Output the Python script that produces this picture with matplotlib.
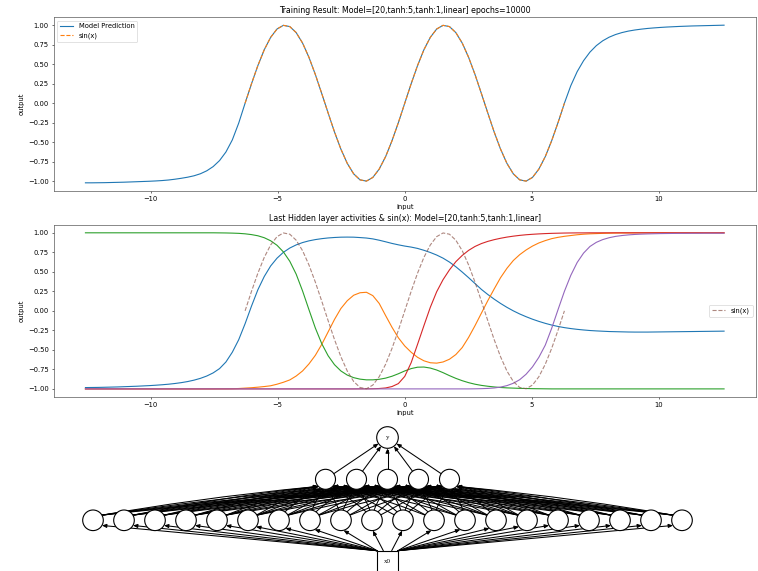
import numpy as np
import matplotlib
matplotlib.use('Agg')
from matplotlib import pyplot as plt
from matplotlib.patches import Circle, Rectangle, FancyArrowPatch
from matplotlib.path import Path

# input grid, -4pi .. 4pi
x_in = np.linspace(-4 * np.pi, 4 * np.pi, 101)
sin_slice = slice(25, 76)  # -2pi .. 2pi

sin_y = [0.000, 0.249, 0.482, 0.685, 0.844, 0.951, 0.998, 0.982, 0.905, 0.771,
         0.588, 0.368, 0.125, -0.125, -0.368, -0.588, -0.771, -0.905, -0.982, -0.998,
         -0.951, -0.844, -0.685, -0.482, -0.249, 0.000, 0.249, 0.482, 0.685, 0.844,
         0.951, 0.998, 0.982, 0.905, 0.771, 0.588, 0.368, 0.125, -0.125, -0.368,
         -0.588, -0.771, -0.905, -0.982, -0.998, -0.951, -0.844, -0.685, -0.482, -0.249,
         0.000]

# model prediction outside -2pi .. 2pi (inside it sits on sin(x))
pred_left = [-1.020, -1.020, -1.019, -1.018, -1.016, -1.014, -1.012, -1.009, -1.006, -1.003,
             -1.000, -0.996, -0.991, -0.984, -0.974, -0.962, -0.948, -0.930, -0.904, -0.866,
             -0.812, -0.735, -0.625, -0.470, -0.255]
pred_right = [0.225, 0.405, 0.545, 0.655, 0.738, 0.800, 0.846, 0.880, 0.905, 0.924,
              0.938, 0.949, 0.958, 0.965, 0.971, 0.976, 0.980, 0.984, 0.987, 0.990,
              0.992, 0.994, 0.996, 0.998, 1.000]
prediction = pred_left + sin_y + pred_right

# last hidden layer (tanh:5) activities
h0 = [-0.983, -0.982, -0.981, -0.979, -0.977, -0.975, -0.972, -0.969, -0.966, -0.962,
      -0.958, -0.953, -0.947, -0.940, -0.931, -0.920, -0.906, -0.888, -0.865, -0.835,
      -0.795, -0.740, -0.655, -0.530, -0.370, -0.165, 0.060, 0.270, 0.440, 0.575,
      0.675, 0.750, 0.805, 0.845, 0.875, 0.897, 0.913, 0.925, 0.934, 0.940,
      0.944, 0.945, 0.944, 0.939, 0.933, 0.922, 0.905, 0.885, 0.864, 0.846,
      0.830, 0.817, 0.800, 0.776, 0.748, 0.715, 0.675, 0.625, 0.565, 0.497,
      0.425, 0.350, 0.275, 0.210, 0.150, 0.095, 0.045, 0.000, -0.040, -0.075,
      -0.107, -0.135, -0.160, -0.182, -0.200, -0.215, -0.227, -0.237, -0.245, -0.252,
      -0.257, -0.261, -0.265, -0.267, -0.269, -0.271, -0.272, -0.272, -0.272, -0.271,
      -0.270, -0.269, -0.268, -0.267, -0.266, -0.265, -0.264, -0.263, -0.262, -0.261,
      -0.260]
h1 = [-1.000] * 20 + [
      -1.000, -0.999, -0.999, -0.998, -0.995, -0.990, -0.985, -0.978, -0.970, -0.960,
      -0.940, -0.915, -0.885, -0.835, -0.770, -0.680, -0.570, -0.430, -0.270, -0.110,
      0.030, 0.130, 0.200, 0.232, 0.238, 0.195, 0.095, -0.060, -0.210, -0.345,
      -0.450, -0.530, -0.595, -0.640, -0.665, -0.670, -0.655, -0.620, -0.560, -0.470,
      -0.340, -0.190, -0.030, 0.130, 0.280, 0.425, 0.545, 0.645, 0.720, 0.780,
      0.830, 0.870, 0.900, 0.925, 0.942, 0.955, 0.965, 0.975, 0.982, 0.987,
      0.990, 0.993, 0.995, 0.997, 0.998, 0.998, 0.999, 0.999, 0.999, 1.000] + [1.000] * 11
h2 = [1.000] * 21 + [
      0.999, 0.998, 0.996, 0.993, 0.987, 0.977, 0.962, 0.937, 0.898,
      0.840, 0.755, 0.635, 0.470, 0.255, 0.015, -0.220, -0.420, -0.575, -0.690,
      -0.770, -0.823, -0.856, -0.875, -0.884, -0.884, -0.877, -0.862, -0.838, -0.806,
      -0.770, -0.740, -0.722, -0.720, -0.733, -0.758, -0.792, -0.830, -0.865, -0.895,
      -0.920, -0.940, -0.955, -0.966, -0.975, -0.982, -0.987, -0.990, -0.993, -0.995,
      -0.997, -0.998, -0.999] + [-1.000] * 28
h3 = [-1.000] * 43 + [
      -0.999, -0.999, -0.998, -0.995, -0.988, -0.970, -0.932,
      -0.840, -0.665, -0.430, -0.190, 0.045, 0.245, 0.400, 0.525, 0.630, 0.710,
      0.775, 0.825, 0.862, 0.890, 0.912, 0.930, 0.945, 0.957, 0.967, 0.975,
      0.981, 0.986, 0.990, 0.993, 0.995, 0.997, 0.998, 0.999, 0.999] + [1.000] * 22
h4 = [-1.000] * 61 + [
      -0.999, -0.997, -0.994, -0.988, -0.977, -0.958, -0.928, -0.882, -0.812,
      -0.718, -0.595, -0.440, -0.225, 0.015, 0.250, 0.455, 0.620, 0.740, 0.825,
      0.878, 0.913, 0.937, 0.954, 0.965, 0.973, 0.979, 0.983, 0.986, 0.988,
      0.990, 0.991, 0.992, 0.993, 0.993, 0.994, 0.994, 0.995, 0.995, 0.995,
      0.995]
hidden = [h0, h1, h2, h3, h4]

# network: x0 -> 20 -> 5 -> y
layer_sizes = [1, 20, 5, 1]
in_label = 'x0'
out_label = 'y'

title1 = 'Training Result: Model=[20,tanh:5,tanh:1,linear] epochs=10000'
title2 = 'Last Hidden layer activities & sin(x): Model=[20,tanh:5,tanh:1,linear]'

plt.rcParams.update({
    'font.size': 4.9, 'axes.titlesize': 5.65, 'axes.linewidth': 0.5,
    'lines.linewidth': 0.8, 'xtick.major.size': 1.75, 'ytick.major.size': 1.75,
    'xtick.major.width': 0.4, 'ytick.major.width': 0.4,
    'xtick.major.pad': 1.75, 'ytick.major.pad': 1.75,
    'axes.titlepad': 3.0, 'axes.labelpad': 2.0, 'legend.fontsize': 4.9,
    'patch.linewidth': 0.5, 'axes.edgecolor': '0.35',
})

W, H = 758, 571
fig = plt.figure(figsize=(W / 100, H / 100), dpi=100)

ax1 = fig.add_axes([53.5 / W, 1 - 190.7 / H, (756 - 53.5) / W, (190.7 - 17.3) / H])
ax1.plot(x_in, prediction, color='C0', label='Model Prediction')
ax1.plot(x_in[sin_slice], sin_y, '--', color='C1', label='sin(x)')
ax1.set_title(title1)
ax1.set_xlabel('input')
ax1.set_ylabel('output')
ax1.legend(loc='upper left')

ax2 = fig.add_axes([53.5 / W, 1 - 396.7 / H, (756 - 53.5) / W, (396.7 - 225) / H])
for k, h in enumerate(hidden):
    ax2.plot(x_in, h, color='C%d' % k)
ax2.plot(x_in[sin_slice], sin_y, '--', color='C5', alpha=0.7, label='sin(x)')
ax2.set_title(title2)
ax2.set_xlabel('input')
ax2.set_ylabel('output')
ax2.legend(loc='center right')

# network diagram, drawn in pixel coordinates
ax3 = fig.add_axes([0, 0, 1, 151 / H])
ax3.set_xlim(0, W)
ax3.set_ylim(H, 420)
ax3.axis('off')

cx = 387.5
row_y = {1: 520.3, 2: 479.3, 3: 437.5}
radius = {1: 10.3, 2: 10.0, 3: 10.8}
step = 31.0
nodes = {}
for li in (1, 2, 3):
    n = layer_sizes[li]
    nodes[li] = [(cx + (i - (n - 1) / 2) * step, row_y[li]) for i in range(n)]

arrow_style = '-|>,head_length=2.6,head_width=1.1'


def arrow(verts, codes):
    ax3.add_patch(FancyArrowPatch(path=Path(verts, codes), arrowstyle=arrow_style,
                                  mutation_scale=1, lw=0.75, color='black',
                                  shrinkA=0, shrinkB=0, zorder=1))


# x0 -> first hidden layer
box_top = 550.7
for (xb, yb) in nodes[1]:
    sx = cx + np.clip((xb - cx) * 0.27, -10.5, 10.5)
    a = np.clip((sx - xb) / 150.0, -1, 1) * np.radians(60)
    ex, ey = xb + radius[1] * np.sin(a), yb + radius[1] * np.cos(a)
    arrow([(sx, box_top), (ex, ey)], [Path.MOVETO, Path.LINETO])

# first hidden -> second hidden (curved)
for (xb, yb) in nodes[1]:
    for (xm, ym) in nodes[2]:
        dx = xm - xb
        t = np.clip(dx / 80.0, -1, 1)
        th = t * np.pi / 3
        p0 = (xb + radius[1] * np.sin(th), yb - radius[1] * np.cos(th))
        ph = t * np.pi / 4
        p3 = (xm - radius[2] * np.sin(ph), ym + radius[2] * np.cos(ph))
        p1 = (p0[0] + 0.25 * dx, p0[1] - 10)
        p2 = (p3[0] - 0.4 * dx, p3[1] + 9)
        arrow([p0, p1, p2, p3], [Path.MOVETO, Path.CURVE4, Path.CURVE4, Path.CURVE4])

# second hidden -> y
(yx, yy) = nodes[3][0]
for (xm, ym) in nodes[2]:
    d = np.array([yx - xm, yy - ym])
    d = d / np.hypot(*d)
    p0 = (xm + radius[2] * d[0], ym + radius[2] * d[1])
    p3 = (yx - radius[3] * d[0], yy - radius[3] * d[1])
    arrow([p0, p3], [Path.MOVETO, Path.LINETO])

for li in (1, 2, 3):
    for (x, y) in nodes[li]:
        ax3.add_patch(Circle((x, y), radius[li], facecolor='white', edgecolor='black',
                             lw=0.8, zorder=2))
ax3.add_patch(Rectangle((cx - 10.5, box_top), 21, 30, facecolor='white',
                        edgecolor='black', lw=0.8, zorder=2))
ax3.text(yx, yy, out_label, ha='center', va='center', fontsize=5,
         family='Liberation Serif', zorder=3)
ax3.text(cx, 561.5, in_label, ha='center', va='center', fontsize=5,
         family='Liberation Serif', zorder=3)

fig.savefig('out.png', dpi=100)
